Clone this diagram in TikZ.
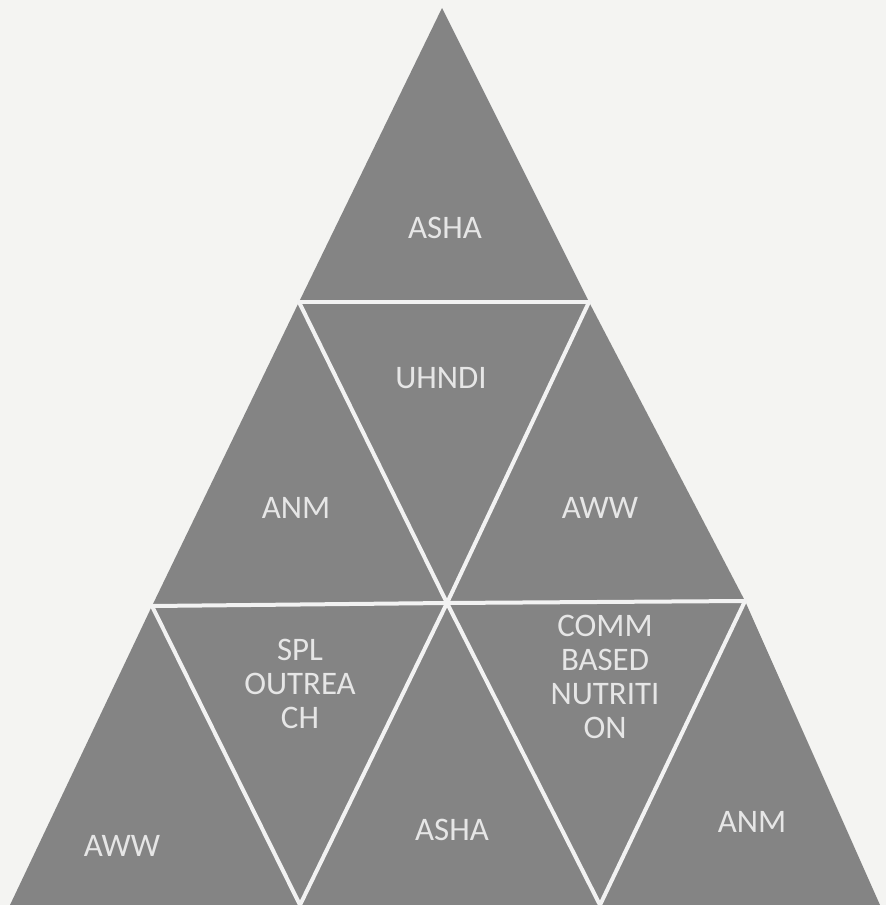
\documentclass[tikz,border=0pt]{standalone}
\usepackage{fontspec}
\setmainfont{Carlito}
\definecolor{paper}{RGB}{244,244,242}
\definecolor{pyr}{RGB}{132,132,132}
\definecolor{divline}{RGB}{242,242,242}
\definecolor{lbl}{RGB}{230,230,230}
\begin{document}
\begin{tikzpicture}[x=1bp,y=-1bp,
  pyramid/.style={fill=pyr},
  divider/.style={draw=divline,line width=4bp,line cap=round},
  label/.style={text=lbl,align=center,inner sep=0pt,font=\fontsize{33}{34}\selectfont}]
\fill[paper] (0,0) rectangle (886,905);
\useasboundingbox (0,0) rectangle (886,905);
\coordinate (A) at (442,8);
\coordinate (L1) at (299,302);
\coordinate (R1) at (589,302);
\coordinate (L2) at (152,606);
\coordinate (R2) at (745,601);
\coordinate (C) at (447,603);
\coordinate (BL) at (10,905);
\coordinate (B1) at (300,905);
\coordinate (B2) at (600,905);
\coordinate (BR) at (880,905);
\fill[pyramid] (A) -- (R1) -- (R2) -- (BR) -- (BL) -- (L2) -- (L1) -- cycle;
\draw[divider] (L1) -- (R1);
\draw[divider] (L2) -- (C) -- (R2);
\draw[divider] (L1) -- (C) -- (B2);
\draw[divider] (R1) -- (C) -- (B1);
\draw[divider] (L2) -- (B1);
\draw[divider] (R2) -- (B2);
\node[label] (asha1) at (445,228) {ASHA};
\node[label] (uhndi) at (441,378) {UHNDI};
\node[label] (anm1) at (296,508) {ANM};
\node[label] (aww1) at (600,508) {AWW};
\node[label] (spl) at (300,684) {SPL\\OUTREA\\CH};
\node[label] (comm) at (605,677) {COMM\\BASED\\NUTRITI\\ON};
\node[label] (aww2) at (122,846) {AWW};
\node[label] (asha2) at (452,830) {ASHA};
\node[label] (anm2) at (752,822) {ANM};
\end{tikzpicture}
\end{document}
